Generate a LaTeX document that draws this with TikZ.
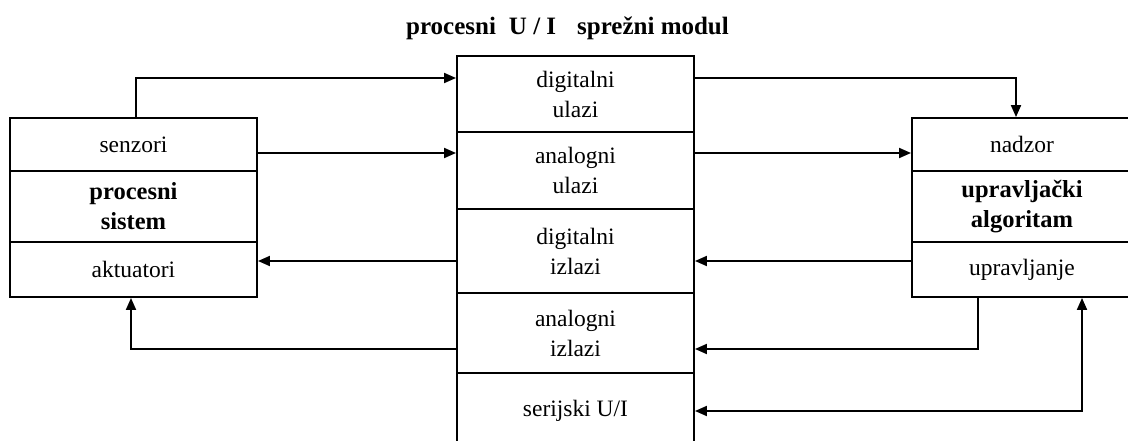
\documentclass[tikz,border=0pt]{standalone}
\usepackage{fontspec}
\setmainfont{Liberation Serif}
\usetikzlibrary{arrows.meta}

\tikzset{
  cell/.style={draw, line width=1.9pt, align=center, inner sep=0pt,
               font=\fontsize{23.5}{30}\selectfont},
  boldcell/.style={cell, font=\fontsize{24.5}{30}\selectfont\bfseries},
  leftcol/.style={minimum width=247pt},
  midcol/.style={minimum width=237pt},
  rightcol/.style={minimum width=220pt},
  tip/.style={},
  link/.style={line width=1.9pt, -{Triangle[length=12pt,width=10pt]}},
  duplex/.style={line width=1.9pt, {Triangle[length=12pt,width=10pt]}-{Triangle[length=12pt,width=10pt]}},
  heading/.style={font=\fontsize{25}{30}\selectfont\bfseries, inner sep=0pt}
}

\begin{document}
\begin{tikzpicture}[x=1pt, y=-1pt]
  \path[use as bounding box] (0,0) rectangle (1128,441);
  \fill[white] (0,0) rectangle (1128,441);
  \clip (0,0) rectangle (1128,441);

  % title
  \node[heading, anchor=base] (title) at (567.5,35)
    {procesni\hspace{13pt}U / I\hspace{21pt}sprežni modul};

  % process side
  \node[cell, leftcol, minimum height=53pt] (sen) at (133.5,144.5) {senzori};
  \node[boldcell, leftcol, minimum height=71pt] (ps) at (133.5,206.5) {procesni\\sistem};
  \node[cell, leftcol, minimum height=55pt] (akt) at (133.5,269.5) {aktuatori};

  % I/O interface module
  \node[cell, midcol, minimum height=76pt] (diu) at (575.5,94) {digitalni\\ulazi};
  \node[cell, midcol, minimum height=77pt] (anu) at (575.5,170.5) {analogni\\ulazi};
  \node[cell, midcol, minimum height=84pt] (diz) at (575.5,251) {digitalni\\izlazi};
  \node[cell, midcol, minimum height=80pt] (anz) at (575.5,333) {analogni\\izlazi};
  \node[cell, midcol, minimum height=76pt] (ser) at (575.5,411) {serijski U/I};

  % control side
  \node[cell, rightcol, minimum height=53pt] (nad) at (1022,144.5) {nadzor};
  \node[boldcell, rightcol, minimum height=71pt] (ua) at (1022,206.5) {upravljački\\algoritam};
  \node[cell, rightcol, minimum height=55pt] (upr) at (1022,269.5) {upravljanje};

  % signal paths
  \draw[link] ([xshift=2.5pt]sen.north) |- ([yshift=16pt]diu.west);
  \draw[link] ([yshift=-8.5pt]sen.east) -- ([yshift=-8.5pt]sen.east -| anu.west);
  \draw[link] ([yshift=16pt]diu.east) -| ([xshift=-6pt]nad.north);
  \draw[link] ([yshift=-8.5pt]nad.west -| anu.east) -- ([yshift=-8.5pt]nad.west);
  \draw[link] ([yshift=8.5pt]upr.west) -- ([yshift=8.5pt]upr.west -| diz.east);
  \draw[link] ([yshift=8.5pt]akt.east -| diz.west) -- ([yshift=8.5pt]akt.east);
  \draw[link] ([yshift=-16pt]anz.west) -| ([xshift=-2.5pt]akt.south);
  \draw[link] ([xshift=-44pt]upr.south) |- ([yshift=-16pt]anz.east);
  \draw[duplex] (ser.east) -| ([xshift=60pt]upr.south);
\end{tikzpicture}
\end{document}
